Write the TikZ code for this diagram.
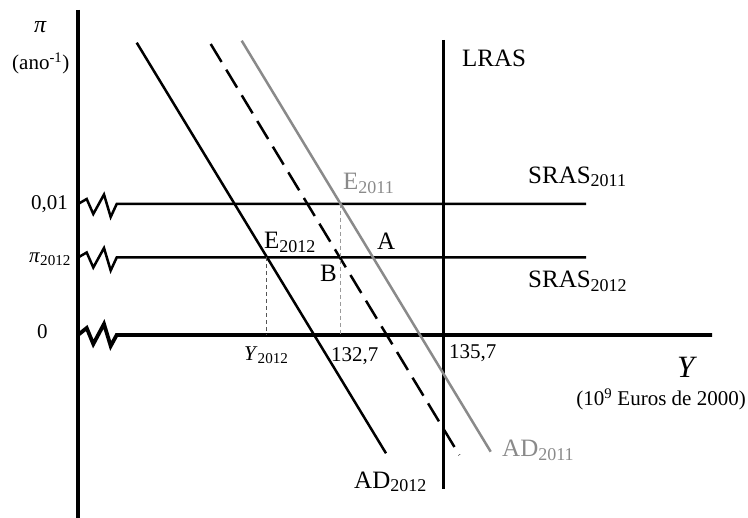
\documentclass[tikz,border=0pt]{standalone}
\usepackage{fontspec}
\setmainfont{Liberation Serif}
\newcommand{\lowsub}[1]{\raisebox{-0.3ex}{\scalebox{0.72}{#1}}}
\newcommand{\fsz}[1]{\fontsize{#1}{#1}\selectfont}
\definecolor{adgray}{HTML}{8A8A8A}
\definecolor{vdark}{HTML}{555555}
\definecolor{vlight}{HTML}{9A9A9A}
\tikzset{
  axisline/.style={line width=3.8pt},
  curve/.style={line width=2.5pt},
  graycurve/.style={line width=2.5pt, draw=adgray},
  dashcurve/.style={line width=2.5pt, dash pattern=on 21pt off 9pt},
  guide/.style={line width=1pt, dash pattern=on 4pt off 3pt},
  lbl/.style={inner sep=0pt, anchor=base west, font=\fsz{25}},
  num/.style={inner sep=0pt, anchor=base west, font=\fsz{21}},
}
\begin{document}
\begin{tikzpicture}[x=1pt,y=-1pt]
\useasboundingbox (0,0) rectangle (748,518);
% axes
\coordinate (ytop) at (78,10);
\coordinate (ybot) at (78,518);
\draw[axisline] (ytop) -- (ybot);
\coordinate (xend) at (712,335);
\draw[axisline, line join=miter] (78,335) -- (86.7,328) -- (93.3,344) -- (104,324) -- (110.7,346) -- (116.7,335) -- (xend);
% SRAS lines
\coordinate (s1end) at (586,204);
\coordinate (s2end) at (586,257.5);
\draw[curve] (78,204) -- (86.7,199) -- (93.3,214) -- (104,194.5) -- (110.7,217) -- (116.7,204) -- (s1end);
\draw[curve] (78,257.5) -- (86.7,252.5) -- (93.3,267.5) -- (104,248) -- (110.7,270.5) -- (116.7,257.5) -- (s2end);
% LRAS
\coordinate (lt) at (443.3,40);
\coordinate (lb) at (443.3,489.5);
\draw[curve] (lt) -- (lb);
% AD curves
\coordinate (ad2t) at (136.7,42.7);
\coordinate (ad2b) at (386,453.3);
\coordinate (addt) at (210.7,44);
\coordinate (addb) at (459.3,455);
\coordinate (ad1t) at (241.7,40.7);
\coordinate (ad1b) at (490.7,451.7);
\draw[curve] (ad2t) -- (ad2b);
\draw[dashcurve] (addt) -- (addb);
\draw[graycurve] (ad1t) -- (ad1b);
% guides
\coordinate (e2) at (266.7,257.5);
\coordinate (e2b) at (266.7,335);
\coordinate (e1) at (340,204);
\coordinate (e1b) at (340,335);
\draw[guide, vdark] (e2) -- (e2b);
\draw[guide, vlight] (e1) -- (e1b);
% labels
\node[inner sep=0pt, anchor=base west, font=\fsz{24}\itshape] (pi) at (34,33) {π};
\node[num] (ano) at (12,70) {(ano\textsuperscript{-1})};
\node[num, anchor=base east] (v001) at (68,209.3) {0,01};
\node[num] (vpi) at (29,263) {\textit{π}\lowsub{2012}};
\node[num] (v0) at (37,338.3) {0};
\node[num] (y2012) at (244,361) {\textit{Y}\lowsub{2012}};
\node[num] (v1327) at (331,361.7) {132,7};
\node[num] (v1357) at (449,358.3) {135,7};
\node[inner sep=0pt, anchor=base west, font=\fsz{31}\itshape] (Ylab) at (677,378) {Y};
\node[num, anchor=base east] (units) at (746,406) {(10\textsuperscript{9} Euros de 2000)};
\node[lbl] (lras) at (462,66.7) {LRAS};
\node[lbl] (sras1) at (528,183.3) {SRAS\lowsub{2011}};
\node[lbl] (sras2) at (528,288) {SRAS\lowsub{2012}};
\node[lbl, text=adgray] (E1) at (343,190) {E\lowsub{2011}};
\node[lbl] (E2) at (264,249) {E\lowsub{2012}};
\node[lbl] (A) at (377,250) {A};
\node[lbl] (B) at (320,281.7) {B};
\node[lbl, text=adgray] (ad1) at (502,456.7) {AD\lowsub{2011}};
\node[lbl] (ad2) at (354,488.3) {AD\lowsub{2012}};
\end{tikzpicture}
\end{document}
